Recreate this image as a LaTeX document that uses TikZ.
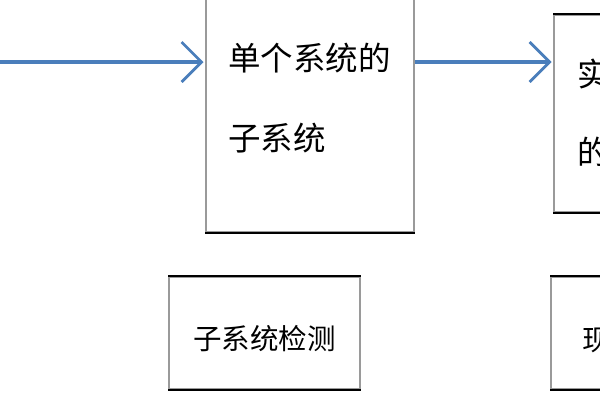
\documentclass[tikz,border=0pt]{standalone}
\usepackage{fontspec}
\newfontfamily\cjk{Noto Sans CJK SC}
\usetikzlibrary{arrows.meta}
\definecolor{arrowblue}{HTML}{4A7EBB}
\definecolor{edgegray}{HTML}{9A9A9A}
\begin{document}
\begin{tikzpicture}[x=1pt,y=-1pt,
  boxshape/.style={draw=edgegray,line width=2pt,fill=white,inner sep=0pt,rectangle},
  boxedge/.style={draw=black,line width=2.2pt},
  flow/.style={draw=arrowblue,line width=3.4pt,-{Straight Barb[length=20pt,width=40pt,line width=2.8pt]}},
  bigtext/.style={inner sep=0pt,anchor=base west,align=left,font=\cjk\fontsize{32.5}{80}\selectfont},
  smalltext/.style={inner sep=0pt,anchor=base west,align=left,font=\cjk\fontsize{28.5}{34}\selectfont}
]
\useasboundingbox (0,0) rectangle (600,400);
% boxes
\node[boxshape,minimum width=208pt,minimum height=252pt] (b1) at (310,106) {};
\node[boxshape,minimum width=80pt,minimum height=197pt] (b2) at (594,113.5) {};
\node[boxshape,minimum width=191pt,minimum height=112pt] (b3) at (264.5,333) {};
\node[boxshape,minimum width=80pt,minimum height=112pt] (b4) at (591,333) {};
\foreach \b in {b1,b2,b3,b4}{
  \draw[boxedge] (\b.north west) -- (\b.north east);
  \draw[boxedge] (\b.south west) -- (\b.south east);
}
% texts (base anchor = baseline of the last line)
\node[bigtext] (t1) at (228,150) {单个系统的\\子系统};
\node[bigtext,font=\cjk\fontsize{32.5}{78}\selectfont] (t2) at (577,164) {实\\的};
\node[smalltext] (t3) at (193,349) {子系统检测};
\node[smalltext] (t4) at (582,350) {现};
% arrows
\coordinate (in) at (-5,62);
\draw[flow] (in) -- ([xshift=-1.5pt]in -| b1.west);
\draw[flow] (in -| b1.east) -- ([xshift=-1.5pt]in -| b2.west);
\end{tikzpicture}
\end{document}
